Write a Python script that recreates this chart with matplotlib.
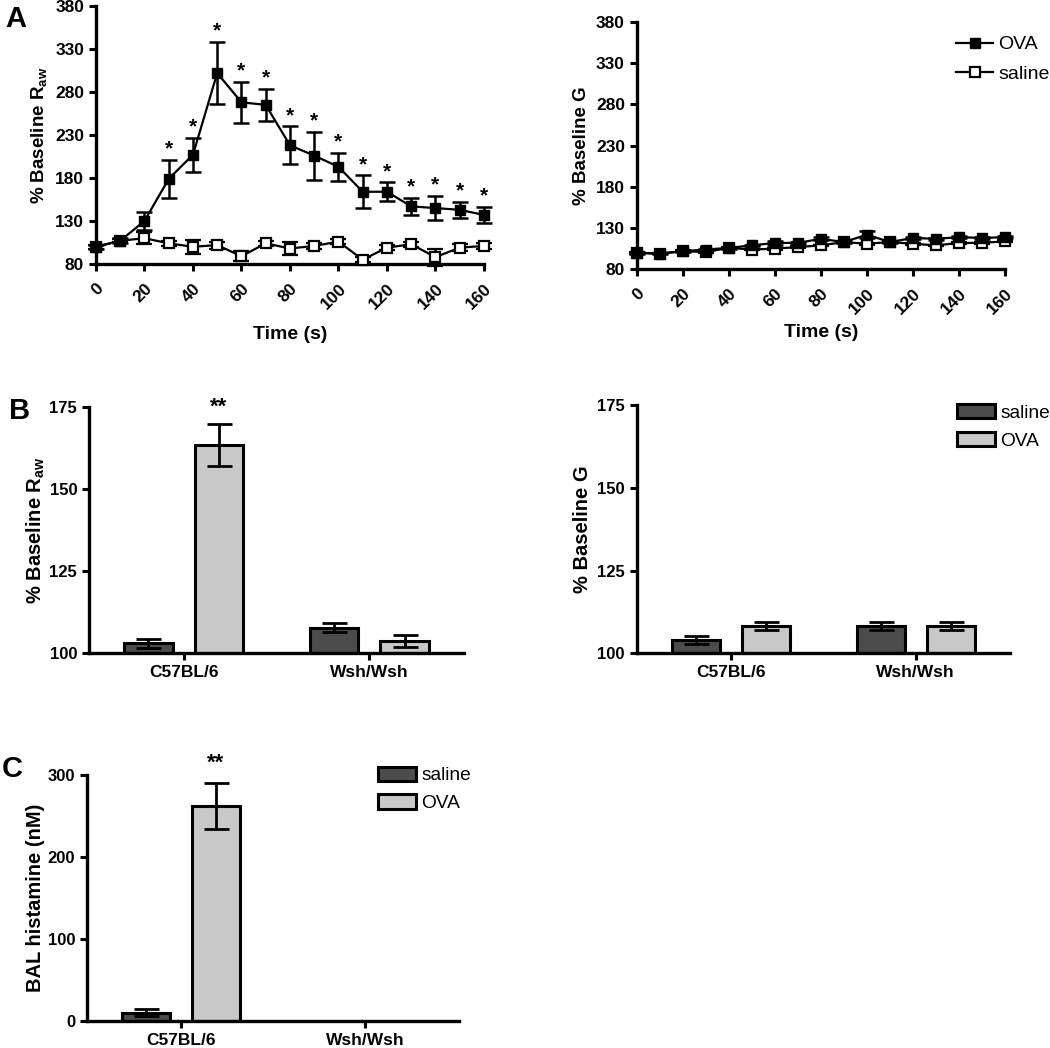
import numpy as np
import matplotlib
matplotlib.use("Agg")
import matplotlib.pyplot as plt
from matplotlib.lines import Line2D
from matplotlib.patches import Patch

plt.rcParams['font.family'] = ['Liberation Sans', 'DejaVu Sans']
plt.rcParams['font.weight'] = 'bold'
plt.rcParams['mathtext.fontset'] = 'custom'
plt.rcParams['mathtext.rm'] = 'Liberation Sans'

# ---- data, panel A (time course) ----
time_s = [0, 10, 20, 30, 40, 50, 60, 70, 80, 90, 100, 110, 120, 130, 140, 150, 160]
raw_ova = [100, 107, 130, 179, 207, 302, 268, 265, 218, 206, 193, 164, 164, 147, 145, 143, 137]
raw_ova_err = [2, 3, 11, 22, 20, 36, 24, 19, 22, 28, 16, 19, 11, 10, 14, 9, 9]
raw_sal = [100, 107, 110, 104, 100, 102, 89, 104, 98, 101, 106, 85, 99, 103, 88, 99, 101]
raw_sal_err = [2, 2, 7, 3, 8, 4, 6, 3, 8, 3, 3, 3, 3, 3, 10, 4, 3]
raw_stars = [30, 40, 50, 60, 70, 80, 90, 100, 110, 120, 130, 140, 150, 160]

g_ova = [100, 99, 102, 104, 106, 109, 112, 112, 117, 113, 122, 113, 118, 117, 119, 118, 119]
g_ova_err = [1, 1, 1, 1, 1, 1, 2, 1, 2, 1, 4, 1, 1, 1, 1, 1, 1]
g_sal = [100, 99, 102, 101, 106, 104, 105, 107, 109, 113, 111, 113, 111, 109, 112, 112, 114]
g_sal_err = [1, 1, 1, 1, 1, 1, 1, 1, 1, 1, 1, 1, 1, 1, 1, 1, 1]

# ---- data, panels B and C (bars) ----
strains = ['C57BL/6', 'Wsh/Wsh']
b_raw_sal = [103.0, 107.8]
b_raw_sal_err = [1.3, 1.4]
b_raw_ova = [163.3, 103.7]
b_raw_ova_err = [6.4, 1.8]
b_g_sal = [104.0, 108.3]
b_g_sal_err = [1.1, 1.2]
b_g_ova = [108.3, 108.3]
b_g_ova_err = [1.2, 1.2]
hist_sal = [10, np.nan]
hist_sal_err = [4, np.nan]
hist_ova = [262, np.nan]
hist_ova_err = [28, np.nan]

DARK = '#4c4c4c'
LIGHT = '#c8c8c8'


def style_axes(ax, tick_size):
    for s in ['top', 'right']:
        ax.spines[s].set_visible(False)
    for s in ['left', 'bottom']:
        ax.spines[s].set_linewidth(2.4)
    ax.tick_params(width=2.2, length=5, labelsize=tick_size)
    for lab in ax.get_xticklabels() + ax.get_yticklabels():
        lab.set_fontweight('bold')


def time_panel(ax, ova, ova_err, sal, sal_err, ylabel, xlabelpad):
    ax.errorbar(time_s, sal, yerr=sal_err, color='black', lw=1.6, capsize=6,
                capthick=1.8, elinewidth=1.8, marker='s', ms=7, mfc='white',
                mec='black', mew=1.6, clip_on=False, zorder=3)
    ax.errorbar(time_s, ova, yerr=ova_err, color='black', lw=1.6, capsize=6,
                capthick=1.8, elinewidth=1.8, marker='s', ms=7, mfc='black',
                mec='black', clip_on=False, zorder=4)
    ax.set_xlim(0, 160)
    ax.set_ylim(80, 380)
    ax.set_xticks(range(0, 161, 20))
    ax.set_yticks(range(80, 381, 50))
    style_axes(ax, 12.5)
    ax.tick_params(axis='x', pad=7)
    plt.setp(ax.get_xticklabels(), rotation=45, ha='right',
             rotation_mode='anchor')
    ax.set_xlabel('Time (s)', fontsize=14, fontweight='bold',
                  labelpad=xlabelpad)
    ax.set_ylabel(ylabel, fontsize=13.5, fontweight='bold', labelpad=4)


def bar_panel(ax, sal, sal_err, ova, ova_err, ylim, yticks, ylabel, ypad):
    x = np.arange(len(strains))
    base = ylim[0]
    sal = np.array(sal, dtype=float)
    ova = np.array(ova, dtype=float)
    ax.bar(x - 0.19, sal - base, 0.26, bottom=base,
           color=DARK, edgecolor='black', lw=2.2, zorder=2)
    ax.bar(x + 0.19, ova - base, 0.26, bottom=base,
           color=LIGHT, edgecolor='black', lw=2.2, zorder=2)
    ax.errorbar(x - 0.19, sal, yerr=sal_err, fmt='none',
                ecolor='black', elinewidth=2, capsize=9, capthick=2, zorder=3)
    ax.errorbar(x + 0.19, ova, yerr=ova_err, fmt='none',
                ecolor='black', elinewidth=2, capsize=9, capthick=2, zorder=3)
    ax.set_xlim(-0.51, 1.51)
    ax.set_ylim(*ylim)
    ax.set_yticks(yticks)
    ax.set_xticks(x)
    ax.set_xticklabels(strains)
    style_axes(ax, 12)
    ax.tick_params(axis='x', labelsize=12.5)
    ax.set_ylabel(ylabel, fontsize=14.5, fontweight='bold', labelpad=ypad)


def bar_legend(ax, anchor):
    handles = [Patch(facecolor=DARK, edgecolor='black', lw=2.2),
               Patch(facecolor=LIGHT, edgecolor='black', lw=2.2)]
    ax.legend(handles, ['saline', 'OVA'], loc='upper left',
              bbox_to_anchor=anchor, frameon=False,
              prop={'weight': 'normal', 'size': 13.8}, handlelength=2.0,
              handleheight=0.8, handletextpad=0.25, labelspacing=0.52,
              borderaxespad=0, borderpad=0)


fig = plt.figure(figsize=(10.5, 10.48), dpi=100)

# panel A left
ax1 = fig.add_axes([0.0914, 0.7481, 0.3695, 0.2462])
time_panel(ax1, raw_ova, raw_ova_err, raw_sal, raw_sal_err,
           r'% Baseline R$_{\mathrm{aw}}$', 10)
for t in raw_stars:
    i = time_s.index(t)
    ax1.annotate('*', (t, raw_ova[i] + raw_ova_err[i]), xytext=(0, 1),
                 textcoords='offset points', ha='center', va='bottom',
                 fontsize=15, fontweight='bold', annotation_clip=False)

# panel A right
ax2 = fig.add_axes([0.6064, 0.743, 0.3508, 0.2363])
time_panel(ax2, g_ova, g_ova_err, g_sal, g_sal_err, '% Baseline G', 5)
leg_handles = [
    Line2D([], [], color='black', lw=1.6, marker='s', ms=7, mfc='black'),
    Line2D([], [], color='black', lw=1.6, marker='s', ms=7, mfc='white',
           mew=1.6),
]
ax2.legend(leg_handles, ['OVA', 'saline'], loc='upper left',
           bbox_to_anchor=(0.868, 0.943), frameon=False,
           prop={'weight': 'normal', 'size': 14}, handlelength=1.9,
           handletextpad=0.25, labelspacing=0.6, borderaxespad=0,
           borderpad=0)

# panel B left
ax3 = fig.add_axes([0.0848, 0.3766, 0.3571, 0.2353])
bar_panel(ax3, b_raw_sal, b_raw_sal_err, b_raw_ova, b_raw_ova_err,
          (100, 175), [100, 125, 150, 175], r'% Baseline R$_{\mathrm{aw}}$', 2)
ax3.text(0.19, 175, '**', ha='center', va='center', fontsize=16,
         fontweight='bold')

# panel B right
ax4 = fig.add_axes([0.6064, 0.3766, 0.3555, 0.2369])
bar_panel(ax4, b_g_sal, b_g_sal_err, b_g_ova, b_g_ova_err,
          (100, 175), [100, 125, 150, 175], '% Baseline G', 4)
bar_legend(ax4, (0.858, 1.006))

# panel C
ax5 = fig.add_axes([0.0829, 0.026, 0.3543, 0.2344])
bar_panel(ax5, hist_sal, hist_sal_err, hist_ova, hist_ova_err,
          (0, 300), [0, 100, 200, 300], 'BAL histamine (nM)', 2)
ax5.text(0.19, 315, '**', ha='center', va='center', fontsize=16,
         fontweight='bold')
bar_legend(ax5, (0.782, 1.035))

# panel letters
fig.text(0.005, 0.995, 'A', fontsize=21, fontweight='bold', va='top')
fig.text(0.009, 0.621, 'B', fontsize=21, fontweight='bold', va='top')
fig.text(0.002, 0.280, 'C', fontsize=21, fontweight='bold', va='top')

fig.savefig('out.png', dpi=100)
